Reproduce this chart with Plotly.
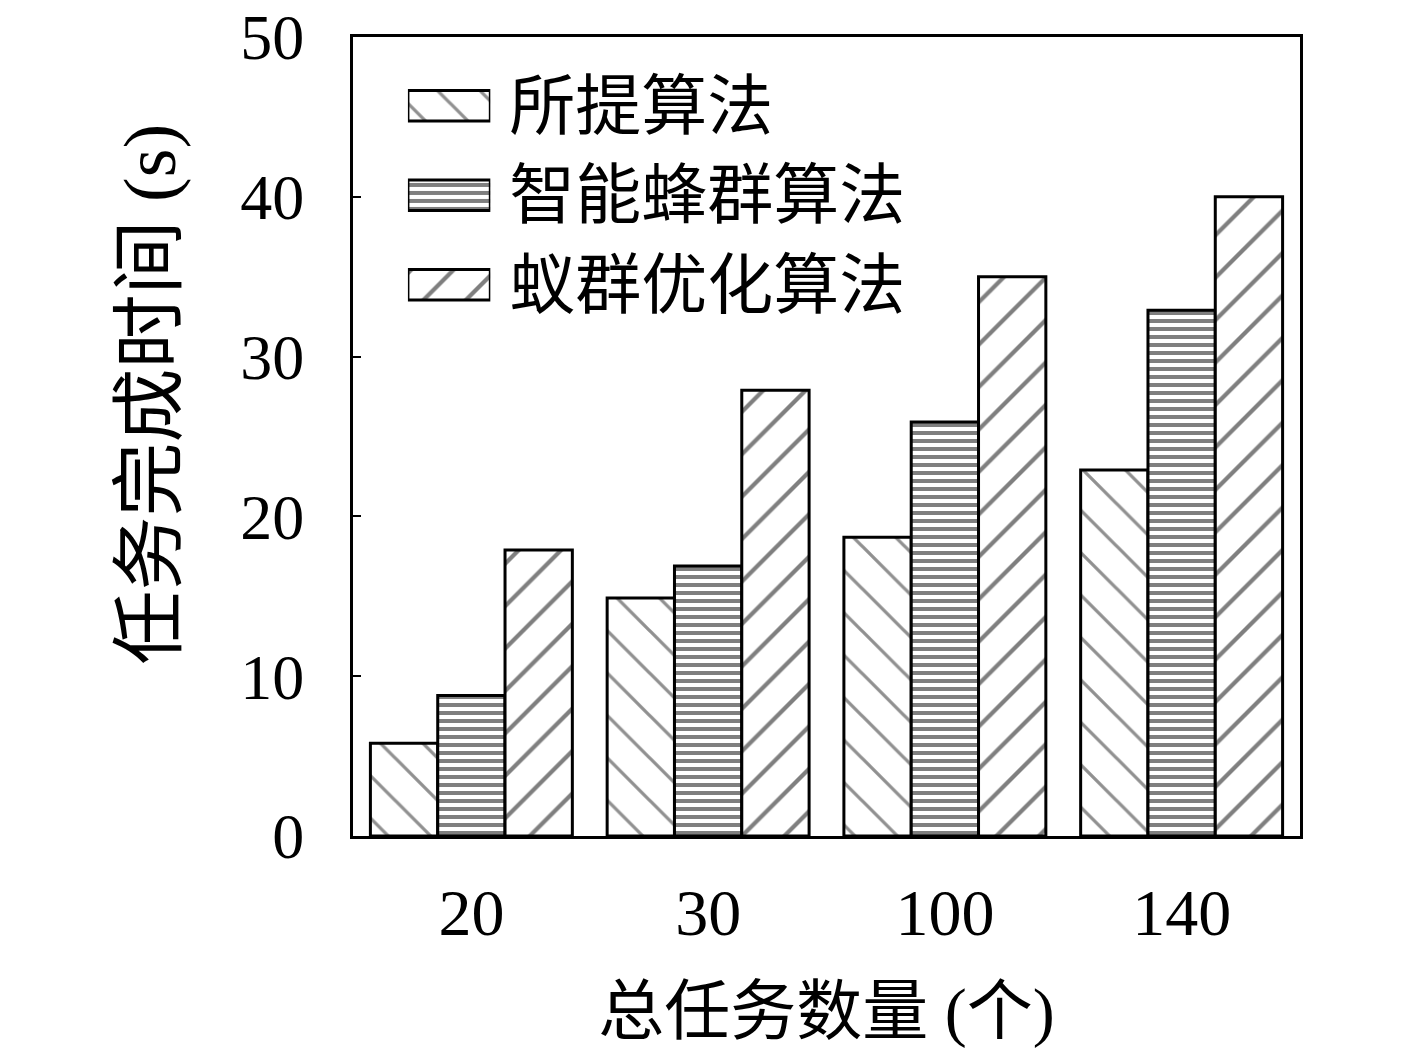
import plotly.graph_objects as go

# total task counts (x categories)
task_counts = ['20', '30', '100', '140']
series_names = ['所提算法', '智能蜂群算法', '蚁群优化算法']

# task completion time (s)
proposed = [5.8, 14.9, 18.7, 22.9]
bee_colony = [8.8, 16.9, 25.9, 32.9]
ant_colony = [17.9, 27.9, 35.0, 40.0]

series_values = [proposed, bee_colony, ant_colony]
series_patterns = [
    dict(shape='\\', size=30, solidity=0.11, fgcolor='#222222', bgcolor='white'),
    dict(shape='-', size=8, solidity=0.5, fgcolor='black', bgcolor='white'),
    dict(shape='/', size=30, solidity=0.14, fgcolor='black', bgcolor='white'),
]

num_font = 'Liberation Serif, Noto Sans CJK SC'
cjk_font = 'Noto Sans CJK SC'

fig = go.Figure()

for name, vals, pat in zip(series_names, series_values, series_patterns):
    fig.add_trace(go.Bar(
        x=task_counts, y=vals, name=name,
        marker=dict(color='white', pattern=pat, line=dict(color='black', width=3)),
        showlegend=False,
    ))

# legend drawn as a tiny horizontal bar chart so the swatches can be wide boxes
for name, pat in zip(series_names, series_patterns):
    fig.add_trace(go.Bar(
        x=[1], y=[name], orientation='h', xaxis='x2', yaxis='y2',
        width=0.34, offsetgroup='legend',
        marker=dict(color='white', pattern=pat, line=dict(color='black', width=3)),
        showlegend=False, hoverinfo='skip',
    ))

fig.add_annotation(
    text='任务完成时间 (s)', textangle=-90, showarrow=False,
    xref='paper', yref='paper', x=-0.214, y=0.553, xanchor='center', yanchor='middle',
    font=dict(family=num_font, size=74),
)

fig.update_layout(
    width=1417, height=1058,
    margin=dict(l=345, r=125, t=29, b=230, autoexpand=False),
    paper_bgcolor='white', plot_bgcolor='white',
    barmode='group', bargap=0.147, bargroupgap=0,
    font=dict(family=num_font, size=64, color='black'),
    xaxis=dict(
        type='category', showline=True, linecolor='black', linewidth=3, mirror=True,
        ticks='', showgrid=False, zeroline=False, automargin=False,
        tickfont=dict(family=num_font, size=66), ticklabelstandoff=17,
        title=dict(text='总任务数量 (个)', font=dict(family=num_font, size=66), standoff=40),
    ),
    yaxis=dict(
        range=[0, 50], dtick=10, showline=True, linecolor='black', linewidth=3, mirror=True,
        ticks='inside', ticklen=8, tickwidth=2, tickcolor='black',
        showgrid=False, zeroline=False, ticklabeloverflow='allow', automargin=False,
        tickfont=dict(family=num_font, size=64), ticklabelstandoff=33,
    ),
    xaxis2=dict(domain=[0.058, 0.145], anchor='y2', range=[0, 1], visible=False, fixedrange=True),
    yaxis2=dict(
        domain=[0.634, 0.97], anchor='x2', side='right', type='category',
        autorange='reversed', showline=False, ticks='', showgrid=False, zeroline=False,
        tickfont=dict(family=cjk_font, size=66), ticklabelstandoff=18, fixedrange=True,
        automargin=False,
    ),
)

fig.write_html('out.html')
